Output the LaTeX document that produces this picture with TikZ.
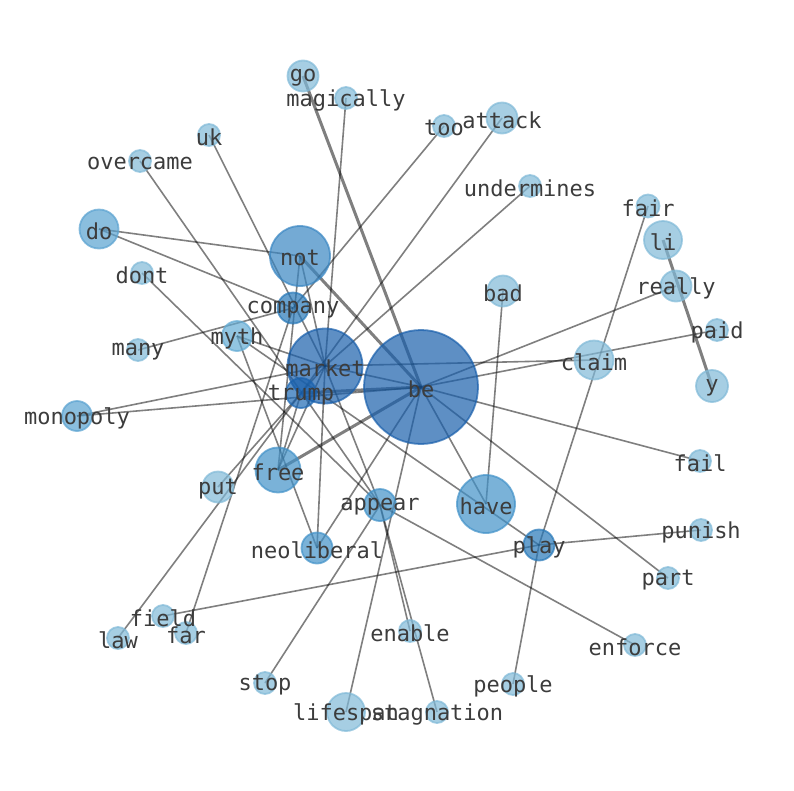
\documentclass[tikz,border=0pt]{standalone}
\usepackage{fontspec}
\setmonofont{DejaVu Sans Mono}
\definecolor{cL}{RGB}{128,185,215}
\definecolor{cM0}{RGB}{100,172,212}
\definecolor{cM1}{RGB}{89,162,208}
\definecolor{cF}{RGB}{65,145,200}
\definecolor{cN}{RGB}{57,134,194}
\definecolor{cC}{RGB}{39,120,184}
\definecolor{cT}{RGB}{30,105,180}
\definecolor{cB}{RGB}{25,95,171}
\definecolor{labelgray}{RGB}{60,60,60}
\pgfdeclarelayer{edges}
\pgfsetlayers{edges,main}
\tikzset{
  vx/.style={circle, inner sep=0pt, minimum size=#1, line width=1.8pt, fill opacity=0.7, draw opacity=0.7},
  lbl/.style={font=\fontsize{22}{26}\selectfont\ttfamily, text=labelgray, inner sep=0pt, yshift=-2pt},
  ed/.style={line width=1.6pt, draw=black, draw opacity=0.5},
  edthick/.style={line width=3pt, draw=black, draw opacity=0.5},
}
\newcommand\vtx[5]{\node[vx=#4pt, fill=#5, draw=#5] (#1) at (#2,#3) {};}
\begin{document}
\begin{tikzpicture}[x=1pt,y=-1pt]
\useasboundingbox (0,0) rectangle (794,790);
% vertices: name, x, y, diameter, colour
\vtx{go}{303}{76}{31}{cL}
\vtx{magically}{346}{98}{22}{cL}
\vtx{uk}{209}{135}{22}{cL}
\vtx{overcame}{140}{161}{22}{cL}
\vtx{do}{99}{229}{39}{cM1}
\vtx{dont}{142}{273}{22}{cL}
\vtx{many}{138}{350}{22}{cL}
\vtx{monopoly}{77}{416}{30}{cM1}
\vtx{too}{444}{126}{22}{cL}
\vtx{attack}{502}{118}{31}{cL}
\vtx{undermines}{530}{186}{22}{cL}
\vtx{fair}{648}{206}{23}{cL}
\vtx{li}{663}{240}{38}{cL}
\vtx{really}{676}{286}{31}{cL}
\vtx{bad}{503}{291}{31}{cL}
\vtx{paid}{717}{330}{22}{cL}
\vtx{claim}{594}{360}{39}{cL}
\vtx{y}{712}{386}{32}{cL}
\vtx{fail}{700}{461}{22}{cL}
\vtx{put}{218}{487}{31}{cL}
\vtx{punish}{701}{530}{22}{cL}
\vtx{part}{668}{578}{22}{cL}
\vtx{field}{163}{616}{22}{cL}
\vtx{far}{186}{633}{22}{cL}
\vtx{law}{118}{638}{22}{cL}
\vtx{enable}{410}{631}{22}{cL}
\vtx{enforce}{635}{645}{22}{cL}
\vtx{stop}{265}{683}{22}{cL}
\vtx{people}{513}{684}{22}{cL}
\vtx{lifespan}{346}{712}{38}{cL}
\vtx{stagnation}{437}{712}{22}{cL}
\vtx{myth}{237}{336}{30}{cM0}
\vtx{free}{278}{470}{45}{cF}
\vtx{appear}{380}{505}{32}{cF}
\vtx{have}{486}{504}{58}{cF}
\vtx{neoliberal}{317}{548}{31}{cF}
\vtx{play}{539}{545}{31}{cC}
\vtx{company}{293}{308}{31}{cC}
\vtx{not}{300}{256}{60}{cN}
\vtx{trump}{301}{393}{30}{cT}
\vtx{market}{325}{366}{75}{cB}
\vtx{be}{421}{387}{114}{cB}
% labels
\foreach \n in {go,magically,uk,overcame,do,dont,many,monopoly,too,attack,undermines,fair,li,really,bad,paid,claim,y,fail,put,punish,part,field,far,law,enable,enforce,stop,people,lifespan,stagnation,myth,free,appear,have,neoliberal,play,company,not,trump,market,be}
  \node[lbl] (\n-t) at (\n.center) {\n};
% edges
\begin{pgfonlayer}{edges}
\foreach \a/\b in {be/market, be/really, be/paid, be/fail, be/part, be/have, be/lifespan, be/neoliberal, be/monopoly,
  market/magically, market/undermines, market/uk, market/myth, market/not, market/claim, market/appear,
  market/neoliberal, market/monopoly, market/put, market/free, trump/attack, trump/law, trump/free,
  company/too, company/do, company/many, company/far, not/free, not/do,
  appear/overcame, appear/dont, appear/enforce, appear/stop, appear/enable, appear/stagnation,
  play/fair, play/people, play/punish, play/field, play/myth, have/bad, myth/neoliberal}
  \draw[ed] (\a.center) -- (\b.center);
\foreach \a/\b in {be/go, be/not, be/trump, be/free, li/y}
  \draw[edthick] (\a.center) -- (\b.center);
\end{pgfonlayer}
\end{tikzpicture}
\end{document}
